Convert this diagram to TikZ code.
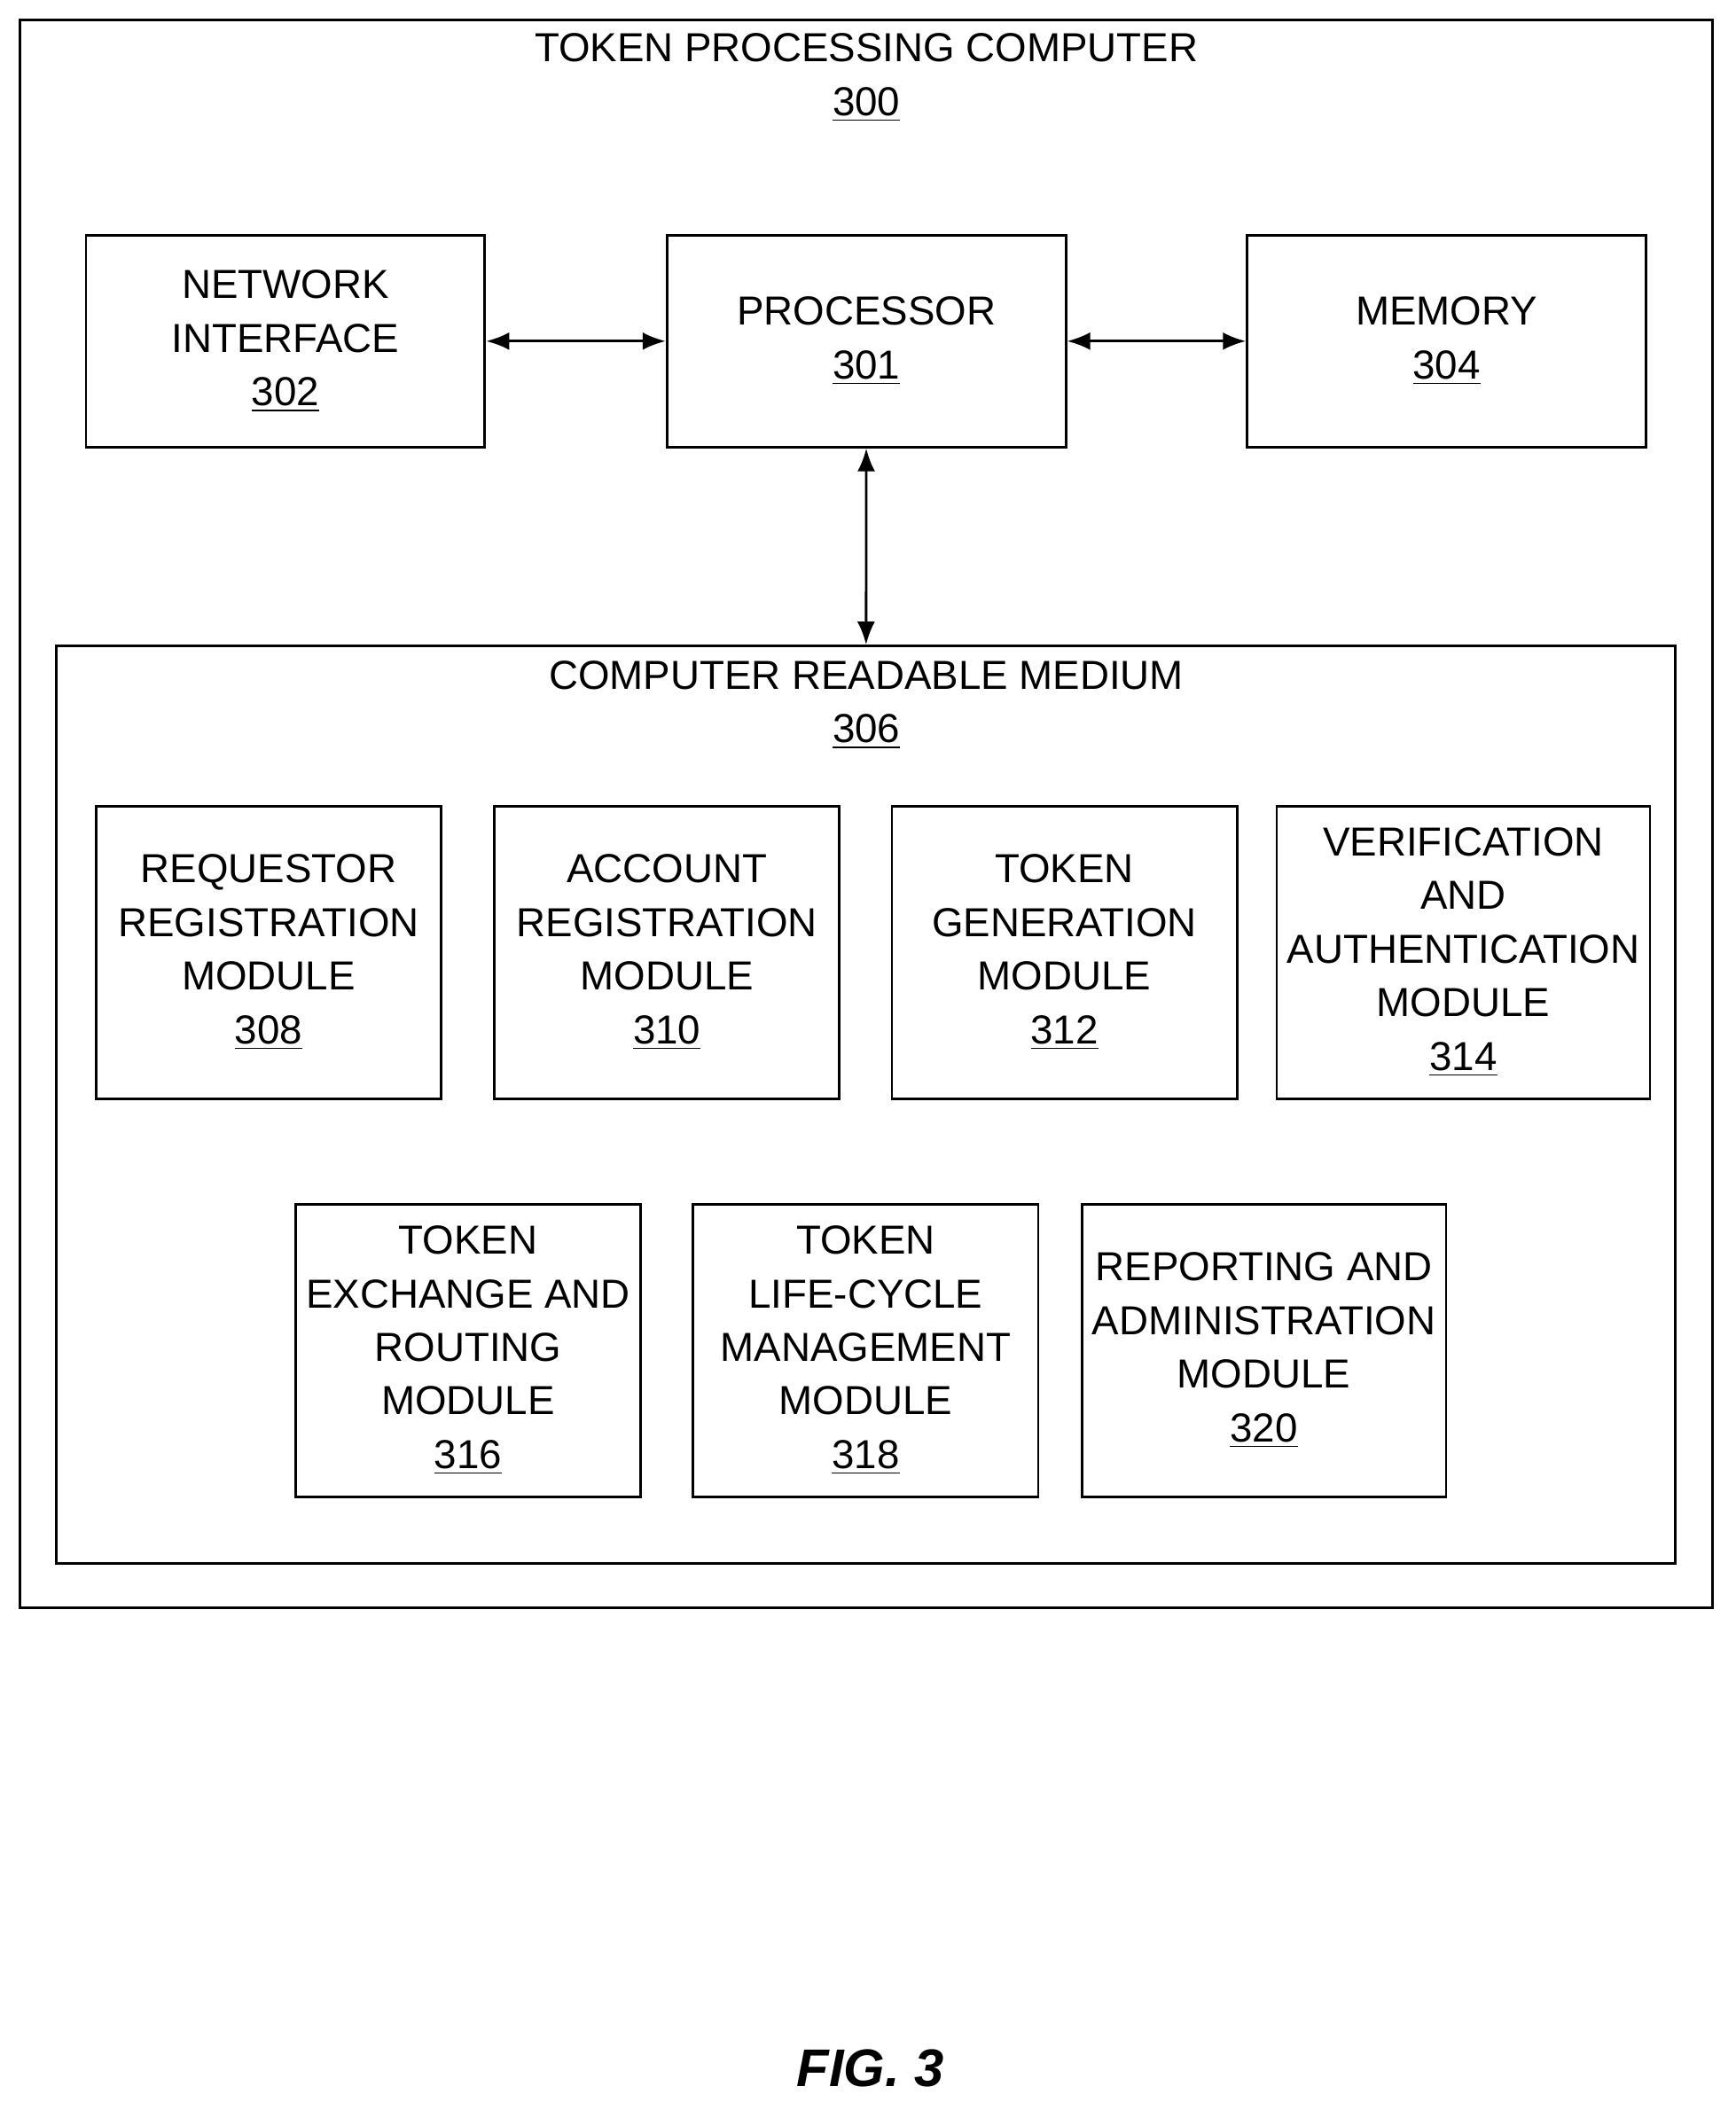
\documentclass[tikz,border=0pt]{standalone}
\usepackage{fontspec}
\setmainfont{Liberation Sans}
\usetikzlibrary{arrows.meta}

\tikzset{
  lbl/.style={align=center, font=\fontsize{13}{17.2}\selectfont},
  box/.style={draw, thick, rectangle, lbl, minimum width=3.894cm, minimum height=3.30cm},
  topbox/.style={draw, thick, rectangle, lbl, minimum width=4.50cm, minimum height=2.39cm},
  link/.style={{Latex[length=2.6mm,width=2mm]}-{Latex[length=2.6mm,width=2mm]}, thick}
}

\begin{document}
\begin{tikzpicture}[x=0.01515cm, y=-0.01515cm]
        \useasboundingbox (0,0) rectangle (1292,1571);
        \node[draw, thick, minimum width=19.09cm, minimum height=17.91cm] at (645, 606)   (tpc) {};
        \node[lbl] at (645, 58)   (tpct) {TOKEN PROCESSING COMPUTER\\\underline{300}};
        \node[topbox] at (212.5, 254)   (ni) {NETWORK\\INTERFACE\\\underline{302}};
        \node[topbox] at (645, 254)   (proc) {PROCESSOR\\\underline{301}};
        \node[topbox] at (1077, 254)   (mem) {MEMORY\\\underline{304}};
        \node[draw, thick, minimum width=18.26cm, minimum height=10.35cm] at (644.5, 822.5)   (crm) {};
        \node[lbl] at (645, 525)   (crmt) {COMPUTER READABLE MEDIUM\\\underline{306}};
        \node[box] at (200, 709)   (rrm) {REQUESTOR\\REGISTRATION\\MODULE\\\underline{308}};
        \node[box] at (496.5, 709)   (arm) {ACCOUNT\\REGISTRATION\\MODULE\\\underline{310}};
        \node[box] at (792.5, 709)   (tgm) {TOKEN\\GENERATION\\MODULE\\\underline{312}};
        \node[box] at (1089.5, 709)   (vam) {VERIFICATION\\AND\\AUTHENTICATION\\MODULE\\\underline{314}};
        \node[box] at (348.5, 1005.5)   (term) {TOKEN\\EXCHANGE AND\\ROUTING\\MODULE\\\underline{316}};
        \node[box] at (644.5, 1005.5)   (tlcm) {TOKEN\\LIFE-CYCLE\\MANAGEMENT\\MODULE\\\underline{318}};
        \node[box] at (941, 1005.5)   (ram) {REPORTING AND\\ADMINISTRATION\\MODULE\\\underline{320}};
        \node[font=\fontsize{17}{20}\selectfont\bfseries\itshape] at (648, 1540)   (fig) {FIG. 3};
        \draw[link] (ni) -- (proc);
        \draw[link] (proc) -- (mem);
        \draw[link] (proc) -- (crm);
    \end{tikzpicture}
\end{document}
